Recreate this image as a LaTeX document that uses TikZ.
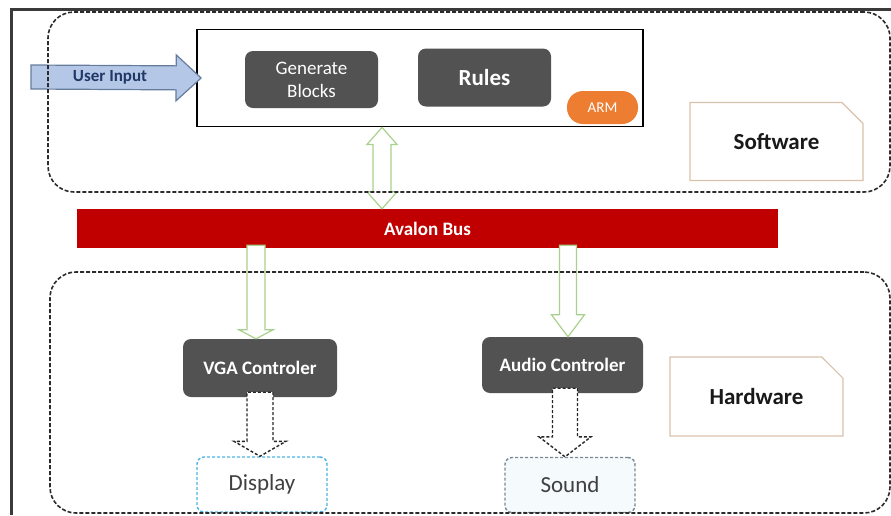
\documentclass[tikz,border=0pt]{standalone}
\usepackage{fontspec}
\setmainfont{Carlito}
\usetikzlibrary{calc,shapes.misc}
\definecolor{blockgray}{HTML}{525252}
\definecolor{framegray}{HTML}{3A3A3A}
\definecolor{zonegray}{HTML}{2B2B2B}
\definecolor{armorange}{HTML}{ED7D31}
\definecolor{busred}{HTML}{C00000}
\definecolor{busgreen}{HTML}{A9D18E}
\definecolor{tanline}{HTML}{D9C2AC}
\definecolor{inputblue}{HTML}{B4C7E7}
\definecolor{inputedge}{HTML}{667C9C}
\definecolor{inputtext}{HTML}{1F3864}
\definecolor{displayblue}{HTML}{4FB3E3}
\definecolor{soundgray}{HTML}{7A8794}
\definecolor{soundfill}{HTML}{F5FAFD}
\definecolor{textgray}{HTML}{404040}
\begin{document}
\begin{tikzpicture}[x=1pt,y=-1pt,
  block/.style={fill=blockgray,rounded corners=8pt,text=white,inner sep=0pt,align=center},
  zone/.style={draw=zonegray,dash pattern=on 4pt off 2pt,line width=1.6pt,rounded corners=26pt,inner sep=0pt},
  tag/.style={chamfered rectangle,chamfered rectangle corners=north east,chamfered rectangle xsep=16pt,
    chamfered rectangle ysep=13pt,draw=tanline,line width=1.2pt,fill=white,inner sep=0pt,text=black!90,
    font=\fontsize{23}{26}\selectfont\bfseries},
  outbox/.style={dash pattern=on 3pt off 2pt,line width=1.4pt,rounded corners=7pt,inner sep=0pt,
    minimum width=130pt,minimum height=55pt,text=textgray,font=\fontsize{23}{26}\selectfont},
  blockarrow/.style n args={3}{to path={
    (\tikztostart) coordinate (ba) (\tikztotarget) coordinate (bt)
    ($(bt)!#3!(ba)$) coordinate (bh)
    ($(ba)!#1!90:(bt)$) -- ($(bh)!#1!-90:(ba)$) -- ($(bh)!#2!-90:(ba)$) -- (bt)
    -- ($(bh)!#2!90:(ba)$) -- ($(bh)!#1!90:(ba)$) -- ($(ba)!#1!-90:(bt)$) -- cycle}},
  dblarrow/.style n args={3}{to path={
    (\tikztostart) coordinate (ba) (\tikztotarget) coordinate (bt)
    ($(bt)!#3!(ba)$) coordinate (bh) ($(ba)!#3!(bt)$) coordinate (bg)
    (ba) -- ($(bg)!#2!90:(bt)$) -- ($(bg)!#1!90:(bt)$) -- ($(bh)!#1!-90:(ba)$) -- ($(bh)!#2!-90:(ba)$) -- (bt)
    -- ($(bh)!#2!90:(ba)$) -- ($(bh)!#1!90:(ba)$) -- ($(bg)!#1!-90:(bt)$) -- ($(bg)!#2!-90:(bt)$) -- cycle}},
  busarrow/.style={draw=busgreen,line width=1.2pt,fill=white},
  outarrow/.style={draw=black!85,dash pattern=on 3pt off 2pt,line width=1.4pt,fill=white}]
\useasboundingbox (0,0) rectangle (891,515);
\draw[line width=3pt,framegray] (11,515) -- (11,9.5) -- (891,9.5);
% software side
\node[draw=black,line width=1.8pt,minimum width=446pt,minimum height=97pt,inner sep=0pt] (armbox) at (420,78) {};
\node[block,minimum width=133pt,minimum height=57pt,font=\fontsize{19}{23}\selectfont] (gen) at (311.5,79.5) {Generate\\Blocks};
\node[block,minimum width=133pt,minimum height=58pt,font=\fontsize{23}{26}\selectfont\bfseries] (rules) at (484.5,77.5) {Rules};
\node[fill=armorange,rounded corners=16pt,minimum width=71pt,minimum height=33pt,inner sep=0pt,text=white,font=\fontsize{15}{18}\selectfont] (arm) at (602.5,107.5) {ARM};
\node[tag,minimum width=173pt,minimum height=78pt] (swlabel) at (776.5,141.5) {Software};
\coordinate (userin) at (31,77);
\draw[blockarrow={12pt}{23pt}{25pt},draw=inputedge,fill=inputblue,line width=1.2pt] (userin) to ($(armbox.west)+(5,0)$);
\node[text=inputtext,font=\fontsize{17}{20}\selectfont\bfseries] (userlbl) at (110,77) {User Input};
% bus
\node[fill=busred,minimum width=701pt,minimum height=39pt,inner sep=0pt,text=white,font=\fontsize{19}{22}\selectfont\bfseries] (bus) at (427.5,228.5) {Avalon Bus};
\draw[dblarrow={9pt}{15pt}{17pt},draw=busgreen,line width=1.2pt] ($(armbox.south)+(-38,0)$) to ($(armbox.south |- bus.north)+(-38,0)$);
% hardware side
\node[block,minimum width=154pt,minimum height=58pt,font=\fontsize{19}{22}\selectfont\bfseries] (vga) at (260,368) {VGA Controler};
\node[block,minimum width=161pt,minimum height=56pt,font=\fontsize{19}{22}\selectfont\bfseries] (audio) at (562.5,365) {Audio Controler};
\node[outbox,draw=displayblue,fill=white] (display) at (262,484.5) {Display};
\node[outbox,draw=soundgray,fill=soundfill] (sound) at (570,485) {Sound};
\node[tag,minimum width=173pt,minimum height=79pt] (hwlabel) at (756.5,396.5) {Hardware};
\draw[blockarrow={9pt}{17pt}{9pt},busarrow] ($(vga.north |- bus.south)+(-4,-3)$) to ($(vga.north)+(-4,0)$);
\draw[blockarrow={8.5pt}{16.5pt}{22pt},busarrow] ($(audio.north |- bus.south)+(5.5,-3)$) to ($(audio.north)+(5.5,0)$);
\draw[blockarrow={13pt}{26pt}{15pt},outarrow] ($(vga.south)+(0,-5)$) to (vga.south |- display.north);
\draw[blockarrow={12.5pt}{26pt}{20pt},outarrow] ($(audio.south)+(2.5,-5)$) to ($(audio.south |- sound.north)+(2.5,0)$);
% dashed zones
\node[zone,minimum width=842pt,minimum height=180pt] (swzone) at (469,102) {};
\node[zone,minimum width=840pt,minimum height=241pt] (hwzone) at (470,392.5) {};
\end{tikzpicture}
\end{document}
